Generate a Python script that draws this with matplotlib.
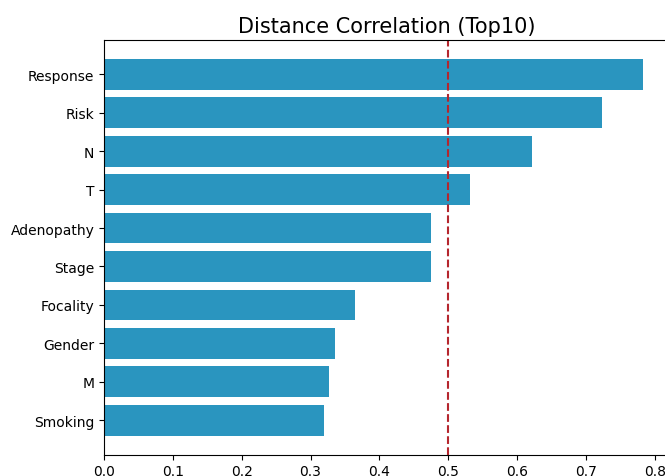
import matplotlib
matplotlib.use("Agg")
import matplotlib.pyplot as plt

features = ["Response", "Risk", "N", "T", "Adenopathy",
            "Stage", "Focality", "Gender", "M", "Smoking"]
dcor = [0.783, 0.723, 0.622, 0.532, 0.475,
        0.475, 0.365, 0.335, 0.327, 0.320]
threshold = 0.5

fig = plt.figure(figsize=(6.65, 4.77), dpi=100)
# axes run slightly past the right edge of the canvas
ax = fig.add_axes([104 / 665, 21.5 / 477, 566 / 665, 414.5 / 477])

ax.barh(features[::-1], dcor[::-1], height=0.8, color="#2a95bf")
ax.axvline(threshold, color="#b5262e", linestyle="--", linewidth=1.5)
ax.set_title("Distance Correlation (Top10)", fontsize=15)

fig.savefig("out.png", dpi=100)
